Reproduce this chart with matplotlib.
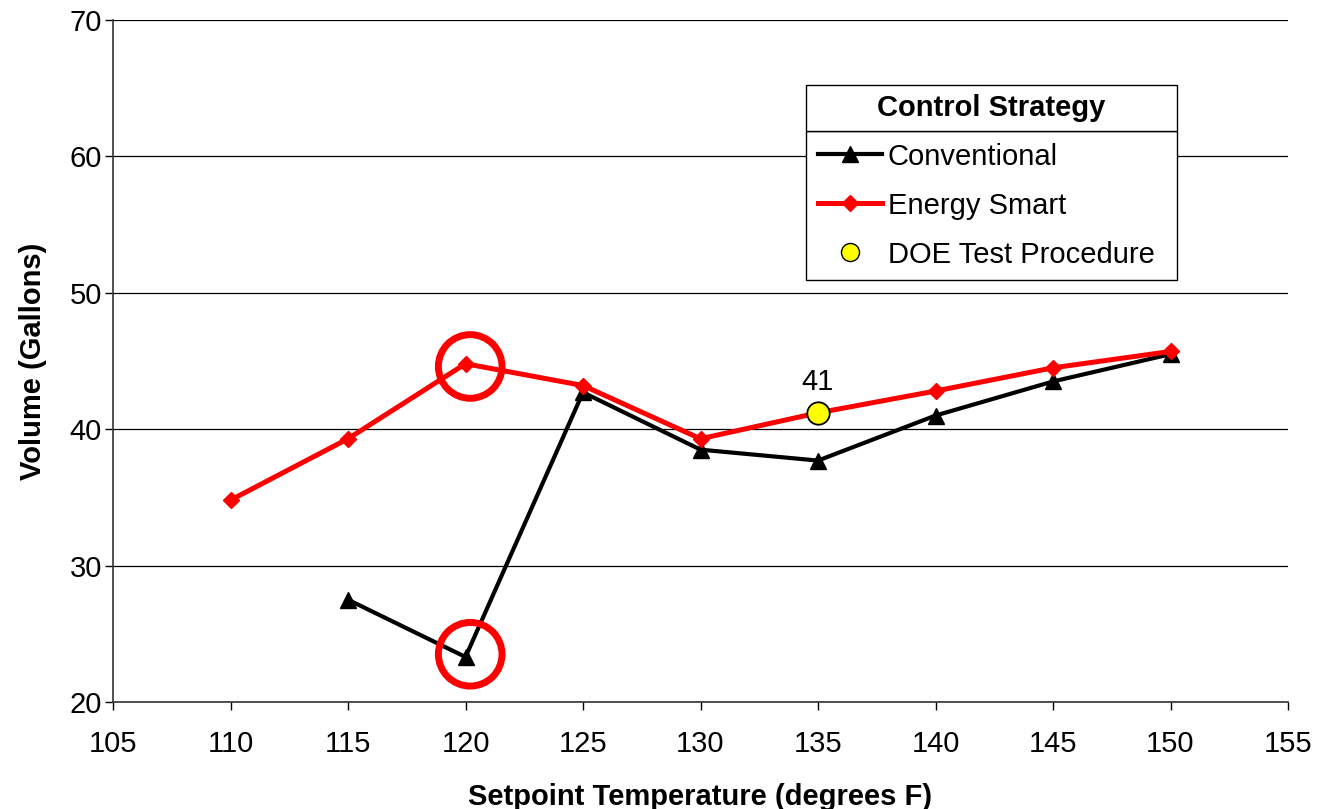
import matplotlib

matplotlib.use("Agg")
import matplotlib.pyplot as plt  # noqa: E402
from matplotlib.lines import Line2D  # noqa: E402
from matplotlib.patches import Rectangle  # noqa: E402

plt.rcParams["font.family"] = ["Liberation Sans", "DejaVu Sans"]

# setpoint temperature (deg F) vs delivered volume (gallons)
conv_temp = [115, 120, 125, 130, 135, 140, 145, 150]
conv_vol = [27.5, 23.3, 42.7, 38.5, 37.7, 41.0, 43.5, 45.5]

smart_temp = [110, 115, 120, 125, 130, 135, 140, 145, 150]
smart_vol = [34.8, 39.3, 44.8, 43.2, 39.3, 41.2, 42.8, 44.5, 45.7]

doe_temp = [135]
doe_vol = [41.2]
doe_label = "41"

# points called out with red rings
ring_temp = [120.2, 120.2]
ring_vol = [44.6, 23.5]

FS = 21

fig = plt.figure(figsize=(13.19, 8.09), dpi=100)
ax = fig.add_axes([113 / 1319, 1 - 702 / 809, 1175 / 1319, 682 / 809])

ax.plot(conv_temp, conv_vol, color="black", lw=3.0, marker="^", ms=12,
        zorder=3)
ax.plot(smart_temp, smart_vol, color="#ff0000", lw=3.6, marker="D", ms=8.5,
        zorder=4)
ax.scatter(doe_temp, doe_vol, s=260, color="#ffff00", edgecolor="black",
           linewidth=1.3, zorder=5)
ax.annotate(doe_label, (doe_temp[0], doe_vol[0]), xytext=(0, 12),
            textcoords="offset points", ha="center", va="bottom", fontsize=FS)
ax.scatter(ring_temp, ring_vol, s=2100, facecolor="none",
           edgecolor="#ff0000", linewidth=5.0, zorder=6)

ax.set_xlim(105, 155)
ax.set_ylim(20, 70)
ax.set_xticks(range(105, 156, 5))
ax.set_yticks(range(20, 71, 10))
ax.tick_params(labelsize=FS, length=6, width=1, direction="out")
ax.tick_params(axis="x", pad=14)
ax.tick_params(axis="y", pad=2)
ax.yaxis.grid(True, color="black", lw=0.9)
ax.set_axisbelow(True)
for side in ("top", "right"):
    ax.spines[side].set_visible(False)
for side in ("left", "bottom"):
    ax.spines[side].set_linewidth(1.2)
    ax.spines[side].set_color("#333333")

ax.set_xlabel("Setpoint Temperature (degrees F)", fontsize=FS,
              fontweight="bold", labelpad=18)
ax.set_ylabel("Volume (Gallons)", fontsize=FS, fontweight="bold", labelpad=16)

# legend with a boxed title cell on top
handles = [
    Line2D([0], [0], color="black", lw=3.0, marker="^", ms=12,
           label="Conventional"),
    Line2D([0], [0], color="#ff0000", lw=3.6, marker="D", ms=8.5,
           label="Energy Smart"),
    Line2D([0], [0], color="none", marker="o", ms=13,
           markerfacecolor="#ffff00", markeredgecolor="black",
           label="DOE Test Procedure"),
]
lx0, lx1 = 806 / 1319, 1177 / 1319
ly_title_top, ly_mid, ly_bot = 1 - 85 / 809, 1 - 131 / 809, 1 - 274 / 809
leg = fig.legend(handles=handles, loc="upper left",
                 bbox_to_anchor=(lx0, ly_bot, lx1 - lx0, ly_mid - ly_bot),
                 mode="expand", fontsize=FS, frameon=True, fancybox=False,
                 edgecolor="black", framealpha=1, handlelength=2.2,
                 handletextpad=0.2, borderpad=0.4, labelspacing=0.72,
                 borderaxespad=0)
leg.get_frame().set_linewidth(1.0)
fig.patches.append(Rectangle((lx0, ly_mid), lx1 - lx0, ly_title_top - ly_mid,
                             transform=fig.transFigure, facecolor="white",
                             edgecolor="black", lw=1.0, zorder=10))
fig.text((lx0 + lx1) / 2, (ly_mid + ly_title_top) / 2, "Control Strategy",
         ha="center", va="center", fontsize=FS, fontweight="bold", zorder=11)

fig.savefig("out.png", dpi=100)
